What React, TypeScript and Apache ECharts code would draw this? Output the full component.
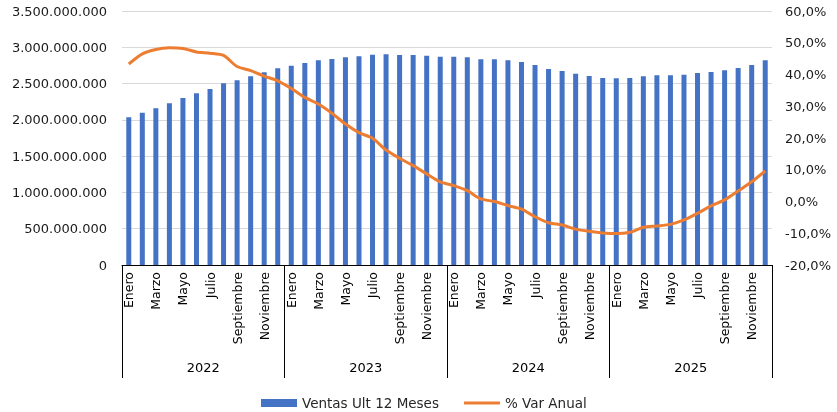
import React, { useEffect, useRef } from "react";
import * as echarts from "echarts";

const monthNames = [
  "Enero", "Febrero", "Marzo", "Abril", "Mayo", "Junio",
  "Julio", "Agosto", "Septiembre", "Octubre", "Noviembre", "Diciembre",
];
const years = ["2022", "2023", "2024", "2025"];

const ventas2022 = [2035000000, 2099000000, 2159000000, 2228000000, 2301000000, 2366000000, 2425000000, 2503000000, 2545000000, 2600000000, 2655000000, 2710000000];
const ventas2023 = [2747000000, 2783000000, 2820000000, 2839000000, 2862000000, 2875000000, 2898000000, 2903000000, 2894000000, 2894000000, 2884000000, 2870000000];
const ventas2024 = [2870000000, 2862000000, 2834000000, 2834000000, 2820000000, 2797000000, 2756000000, 2701000000, 2673000000, 2636000000, 2604000000, 2577000000];
const ventas2025 = [2572000000, 2577000000, 2600000000, 2614000000, 2614000000, 2622000000, 2646000000, 2659000000, 2682000000, 2715000000, 2756000000, 2820000000];

const var2022 = [43.3, 46.5, 47.9, 48.4, 48.2, 47.1, 46.7, 46.0, 42.5, 41.2, 39.5, 38.0];
const var2023 = [35.6, 32.8, 30.7, 27.8, 24.4, 21.7, 19.9, 16.2, 13.6, 11.3, 8.7, 6.2];
const var2024 = [5.0, 3.4, 0.8, 0.0, -1.3, -2.4, -4.8, -6.7, -7.4, -8.7, -9.4, -9.9];
const var2025 = [-10.1, -9.7, -8.1, -7.7, -7.2, -5.8, -3.7, -1.4, 0.5, 3.3, 6.2, 9.6];

const seriesVentasName = "Ventas Ult 12 Meses";
const seriesVarName = "% Var Anual";

const FONT = "DejaVu Sans";

export default function App() {
  const ref = useRef<HTMLDivElement>(null);
  useEffect(() => {
    if (!ref.current) return;
    const chart = echarts.init(ref.current, null, { renderer: "svg" });
    const categories = years.flatMap(() => monthNames);
    const ventas = [...ventas2022, ...ventas2023, ...ventas2024, ...ventas2025];
    const pct = [...var2022, ...var2023, ...var2024, ...var2025];
    const fmtNum = (v: number) =>
      String(Math.round(v)).replace(/\B(?=(\d{3})+(?!\d))/g, ".");
    chart.setOption({
      animation: false,
      grid: { left: 122, right: 65, top: 11, bottom: 147, containLabel: false },
      legend: {
        left: 256,
        top: 391,
        itemWidth: 36,
        itemHeight: 8,
        itemGap: 25,
        textStyle: { fontFamily: FONT, fontSize: 13.5, color: "#262626" },
        data: [
          { name: seriesVentasName, icon: "rect" },
          { name: seriesVarName, icon: "path://M0,0 L36,0 L36,3 L0,3 Z" },
        ],
      },
      xAxis: [
        {
          type: "category",
          data: categories,
          position: "bottom",
          axisLine: { show: true, onZero: false, lineStyle: { color: "#000", width: 1 } },
          axisTick: { show: false },
          axisLabel: {
            interval: 1,
            rotate: 90,
            margin: 7,
            fontFamily: FONT,
            fontSize: 12.5,
            color: "#000",
          },
          splitLine: { show: false },
        },
        {
          type: "category",
          data: years,
          position: "bottom",
          axisLine: { show: false, onZero: false },
          axisTick: { show: true, inside: false, length: 113, lineStyle: { color: "#000", width: 1 } },
          axisLabel: {
            margin: 96,
            fontFamily: FONT,
            fontSize: 13,
            color: "#000",
          },
          splitLine: { show: false },
        },
      ],
      yAxis: [
        {
          type: "value",
          min: 0,
          max: 3500000000,
          interval: 500000000,
          axisLine: { show: false },
          axisTick: { show: false },
          axisLabel: {
            margin: 15,
            fontFamily: FONT,
            fontSize: 13,
            color: "#1a1a1a",
            formatter: (v: number) => fmtNum(v),
          },
          splitLine: { show: true, lineStyle: { color: "#d9d9d9", width: 1 } },
        },
        {
          type: "value",
          min: -20,
          max: 60,
          interval: 10,
          position: "right",
          axisLine: { show: false },
          axisTick: { show: false },
          axisLabel: {
            margin: 13,
            fontFamily: FONT,
            fontSize: 13,
            color: "#1a1a1a",
            formatter: (v: number) => v.toFixed(1).replace(".", ",") + "%",
          },
          splitLine: { show: false },
        },
      ],
      series: [
        {
          name: seriesVentasName,
          type: "bar",
          xAxisIndex: 0,
          yAxisIndex: 0,
          data: ventas,
          barWidth: 5,
          itemStyle: { color: "#4472C4" },
        },
        {
          name: seriesVarName,
          type: "line",
          xAxisIndex: 0,
          yAxisIndex: 1,
          data: pct,
          symbol: "none",
          smooth: 0.25,
          lineStyle: { color: "#ED7D31", width: 3 },
          itemStyle: { color: "#ED7D31" },
        },
      ],
    });
    return () => chart.dispose();
  }, []);
  return (
    <div
      ref={ref}
      style={{ position: "fixed", left: 0, top: 0, width: 837, height: 412 }}
    />
  );
}
